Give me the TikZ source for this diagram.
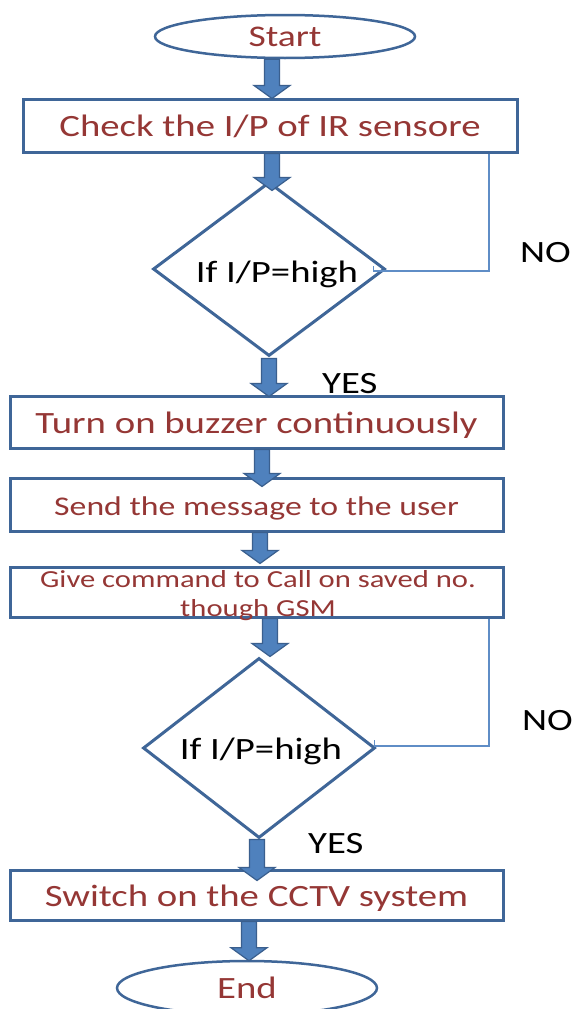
\documentclass[tikz,border=0pt]{standalone}
\usepackage{fontspec}
\setmainfont{Carlito}[FakeStretch=1.25]
\usetikzlibrary{shapes.geometric,calc}

\definecolor{edgeblue}{HTML}{3F6698}
\definecolor{arrowfill}{HTML}{4F81BD}
\definecolor{arrowedge}{HTML}{3A5F8E}
\definecolor{textred}{HTML}{953735}
\definecolor{thinblue}{HTML}{5F8DC6}

\tikzset{
  stepbox/.style={draw=edgeblue, line width=3pt, rectangle, inner sep=0pt,
    minimum width=#1, text=textred, text height=22pt, text depth=0pt},
  terminal/.style={draw=edgeblue, line width=2.5pt, ellipse, inner sep=0pt,
    minimum width=260pt, text=textred, font=\fontsize{30}{36}\selectfont},
  decision/.style={draw=edgeblue, line width=3pt, diamond, inner sep=0pt,
    minimum width=232pt},
  plainlabel/.style={inner sep=0pt, text=black, font=\fontsize{31}{37}\selectfont},
  bigtext/.style={font=\fontsize{31}{37}\selectfont},
  blockarrow/.style={fill=arrowfill, draw=arrowedge, line width=1.2pt, line join=miter},
  noline/.style={draw=thinblue, line width=1.5pt},
}

% block arrow: #1 = x position, #2 = start point, #3 = tip point
\newcommand\blockarrow[3]{%
  \path[blockarrow] let \p1=#2, \p2=#3 in
    (#1pt-7.5pt,\y1) -- (#1pt+7.5pt,\y1) -- (#1pt+7.5pt,\y2+13pt)
    -- (#1pt+18pt,\y2+13pt) -- (#1pt,\y2) -- (#1pt-18pt,\y2+13pt)
    -- (#1pt-7.5pt,\y2+13pt) -- cycle;}

\begin{document}
\begin{tikzpicture}[x=1pt,y=-1pt]
\useasboundingbox (0,0) rectangle (571,1009);
\fill[white] (0,0) rectangle (571,1009);

% terminals, process boxes and decisions
\node[terminal, minimum height=43pt] (start) at (285,36.5) {Start};
\node[stepbox=494pt, minimum height=53pt, bigtext] (box1) at (270,125.5) {Check the I/P of IR sensore};
\node[decision, minimum height=174pt] (dia1) at (269,269) {};
\node[plainlabel, anchor=base] (dia1txt) at (277,282) {If I/P=high};
\node[stepbox=493pt, minimum height=52pt, bigtext] (box2) at (256.5,422) {Turn on buzzer continuously};
\node[stepbox=493pt, minimum height=53pt, font=\fontsize{27}{32}\selectfont] (box3) at (256.5,504.5) {Send the message to the user};
\node[stepbox=493pt, minimum height=50pt] (box4) at (256.5,592) {};
\node[inner sep=0pt, text=textred, align=center, font=\fontsize{24.5}{29}\selectfont] (box4txt) at (258,596)
  {Give command to Call on saved no.\\though GSM};
\node[decision, minimum height=180pt] (dia2) at (259,748) {};
\node[plainlabel, anchor=base] (dia2txt) at (261,759) {If I/P=high};
\node[stepbox=493pt, minimum height=50pt, bigtext] (box5) at (256.5,895) {Switch on the CCTV system};
\node[terminal, minimum height=54pt, font=\fontsize{31}{37}\selectfont] (end) at (247,988) {End};

% branch labels
\node[plainlabel, anchor=base west] (no1) at (520,262) {NO};
\node[plainlabel, anchor=base west] (yes1) at (322,393) {YES};
\node[plainlabel, anchor=base west] (no2) at (522,730) {NO};
\node[plainlabel, anchor=base west] (yes2) at (308,853) {YES};

% NO branches back to the step above
\coordinate (no1c) at (489,271);
\coordinate (no2c) at (489,746);
\draw[noline] ($(dia1.east)+(-13,-3)$) |- (no1c) -- (no1c |- box1.south);
\draw[noline] ($(dia2.east)+(-2,-8)$) |- (no2c) -- (no2c |- box4.south);

% block arrows along the main flow
\blockarrow{272}{(start.south)}{($(box1.north)+(0,1)$)}
\blockarrow{272}{(box1.south)}{($(dia1.north)+(0,10)$)}
\blockarrow{269}{($(dia1.south)+(0,1)$)}{($(box2.north)+(0,2)$)}
\blockarrow{262}{(box2.south)}{($(box3.north)+(0,10)$)}
\blockarrow{260}{(box3.south)}{($(box4.north)+(0,-2)$)}
\blockarrow{270}{(box4.south)}{(dia2.north)}
\blockarrow{257}{(dia2.south)}{($(box5.north)+(0,12)$)}
\blockarrow{249}{(box5.south)}{($(end.north)+(0,1)$)}
\end{tikzpicture}
\end{document}
